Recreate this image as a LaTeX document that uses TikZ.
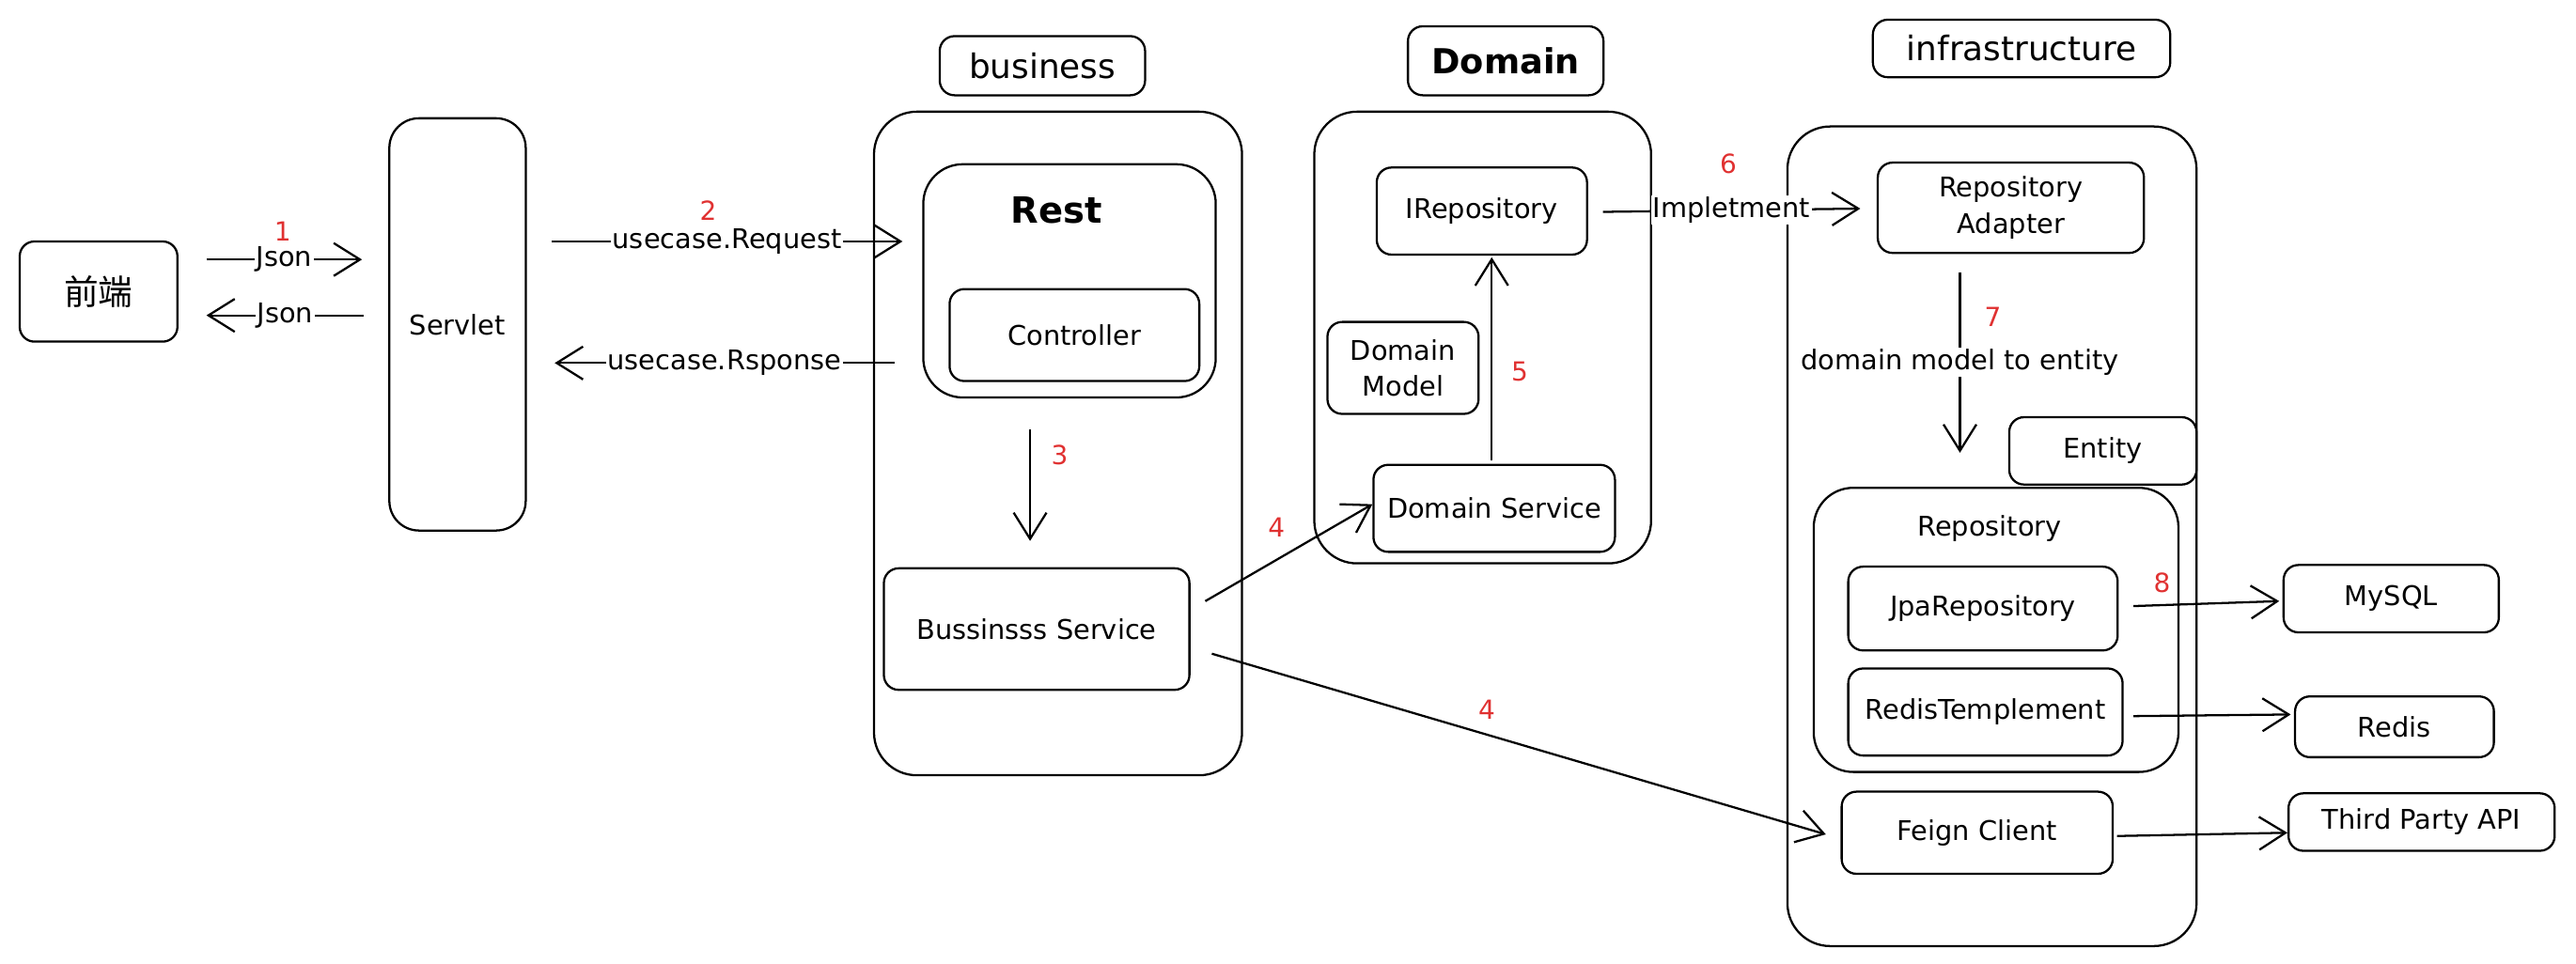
\documentclass[tikz,border=0pt]{standalone}
\usepackage{fontspec}
\setmainfont{DejaVu Sans}
\newfontfamily\cjk{Noto Sans CJK SC}
\usetikzlibrary{arrows.meta,calc}
\definecolor{numred}{HTML}{E03131}
\begin{document}
\begin{tikzpicture}[x=1pt,y=-1pt,
  box/.style={draw, line width=1.3pt, rounded corners=9pt, align=center, inner sep=0pt, font=\fontsize{16.5}{22}\selectfont},
  bigbox/.style={box, rounded corners=26pt},
  titlebox/.style={box, font=\fontsize{20.5}{24}\selectfont},
  num/.style={text=numred, font=\fontsize{16}{18}\selectfont},
  arr/.style={line width=1.3pt, -{Straight Barb[length=16pt,width=20pt]}},
  lbl/.style={fill=white, inner sep=1pt, font=\fontsize{16.5}{19}\selectfont},
  txt/.style={font=\fontsize{16.5}{19}\selectfont}]
\useasboundingbox (0,0) rectangle (1568,586.4);

% front end and servlet
\node[box, minimum width=96pt, minimum height=61pt, font=\fontsize{21}{24}\selectfont] (fe) at (60,177.5) {\cjk 前端};
\node[box, rounded corners=18pt, minimum width=83pt, minimum height=251pt] (servlet) at (278.5,197.5) {Servlet};

% business
\node[titlebox, minimum width=125pt, minimum height=36pt] (bizlbl) at (634.5,40) {business};
\node[bigbox, minimum width=224pt, minimum height=404pt] (biz) at (644,270) {};
\node[bigbox, rounded corners=24pt, minimum width=178pt, minimum height=142pt] (rest) at (651,171) {};
\node[txt, font=\fontsize{22}{26}\selectfont\bfseries] (resttxt) at (643,128) {Rest};
\node[box, minimum width=152pt, minimum height=56pt] (ctrl) at (654,204) {Controller};
\node[box, minimum width=186pt, minimum height=74pt] (bsvc) at (631,383) {Bussinsss Service};

% domain
\node[titlebox, minimum width=119pt, minimum height=42pt, font=\fontsize{21}{24}\selectfont\bfseries] (domlbl) at (916.5,37) {Domain};
\node[bigbox, minimum width=205pt, minimum height=275pt] (dom) at (902.5,205.5) {};
\node[box, minimum width=128pt, minimum height=53pt] (irepo) at (902,128.5) {IRepository};
\node[box, minimum width=92pt, minimum height=56pt] (dmodel) at (854,224) {Domain\\Model};
\node[box, minimum width=147pt, minimum height=53pt] (dsvc) at (909.5,309.5) {Domain Service};

% infrastructure
\node[titlebox, minimum width=181pt, minimum height=35pt] (infralbl) at (1230.5,29.5) {infrastructure};
\node[bigbox, minimum width=249pt, minimum height=499pt] (infra) at (1212.5,326.5) {};
\node[box, minimum width=162pt, minimum height=55pt] (radapt) at (1224,126.5) {Repository\\Adapter};
\node[box, minimum width=114pt, minimum height=41pt] (entity) at (1280,274.5) {Entity};
\node[bigbox, rounded corners=24pt, minimum width=222pt, minimum height=173pt] (repo) at (1215,383.5) {};
\node[txt] (repotxt) at (1211,322) {Repository};
\node[box, minimum width=164pt, minimum height=51pt] (jpa) at (1207,370.5) {JpaRepository};
\node[box, minimum width=167pt, minimum height=53pt] (rtpl) at (1208.5,433.5) {RedisTemplement};
\node[box, minimum width=165pt, minimum height=50pt] (feign) at (1203.5,507) {Feign Client};

% external
\node[box, minimum width=131pt, minimum height=41pt] (mysql) at (1455.5,364.5) {MySQL};
\node[box, minimum width=121pt, minimum height=37pt] (redis) at (1457.5,442.5) {Redis};
\node[box, minimum width=162pt, minimum height=35pt] (third) at (1474,500.5) {Third Party API};

% connectors
\draw[arr] ($(fe.east)+(17,-19.5)$) -- node[lbl]{Json} ($(servlet.west)+(-16,-39.5)$);
\draw[arr] ($(servlet.west)+(-15,-5.5)$) -- node[lbl]{Json} ($(fe.east)+(17,14.5)$);
\draw[arr] ($(servlet.east)+(15,-50.5)$) -- node[lbl]{usecase.Request} ($(rest.west)+(-12,-24)$);
\draw[arr] ($(rest.west)+(-17,50)$) -- node[lbl]{usecase.Rsponse} ($(servlet.east)+(17,23.5)$);
\draw[arr] ($(bsvc.north)+(-4,-84)$) -- ($(bsvc.north)+(-4,-16)$);
\draw[arr] ($(bsvc.east)+(9,-17)$) -- ($(dsvc.west)+(0,-2.5)$);
\draw[arr] ($(bsvc.east)+(13,15)$) -- ($(feign.west)+(-9,1)$);
\draw[arr] ($(dsvc.north)+(-1.5,-2)$) -- ($(irepo.south)+(6,1)$);
\draw[arr] ($(irepo.east)+(9,0.5)$) -- node[lbl]{Impletment} ($(radapt.west)+(-10,0.5)$);
\draw[arr] ($(radapt.south)+(-31,11)$) -- node[lbl, pos=0.5]{domain model to entity} ($(radapt.south)+(-31,121)$);
\draw[arr] ($(jpa.east)+(9,-1.5)$) -- ($(mysql.west)+(-2,1.5)$);
\draw[arr] ($(rtpl.east)+(6,2.5)$) -- ($(redis.west)+(-2,-7.5)$);
\draw[arr] ($(feign.east)+(2,2)$) -- ($(third.west)+(0,6.5)$);

% step numbers
\node[num] (n1) at (172,141) {1};
\node[num] (n2) at (431,128) {2};
\node[num] (n3) at (645,277) {3};
\node[num] (n4a) at (777,321) {4};
\node[num] (n4b) at (905,432) {4};
\node[num] (n5) at (925,226) {5};
\node[num] (n6) at (1052,100) {6};
\node[num] (n7) at (1213,193) {7};
\node[num] (n8) at (1316,355) {8};
\end{tikzpicture}
\end{document}
